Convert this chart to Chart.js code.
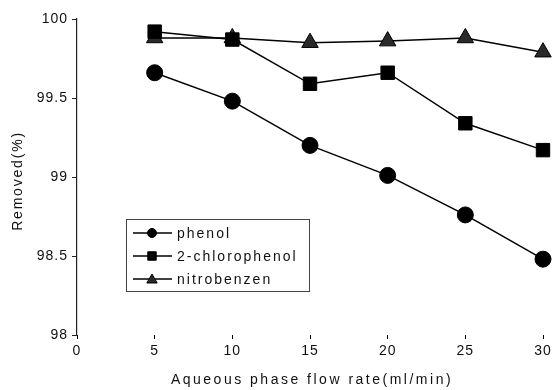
<!DOCTYPE html>
<html><head><meta charset="utf-8">
<script src="https://cdn.jsdelivr.net/npm/chart.js@4"></script>
<style>html,body{margin:0;padding:0;background:#fff}#wrap{width:557px;height:390px}</style>
</head><body><div id="wrap"><canvas id="c" width="557" height="390"></canvas></div>
<script>
const flowRates = [5, 10, 15, 20, 25, 30];
const phenol = [99.66, 99.48, 99.20, 99.01, 98.76, 98.48];
const chlorophenol = [99.92, 99.87, 99.59, 99.66, 99.34, 99.17];
const nitrobenzen = [99.88, 99.88, 99.85, 99.86, 99.88, 99.79];
const seriesNames = ['phenol', '2-chlorophenol', 'nitrobenzen'];
const xTicks = [0, 5, 10, 15, 20, 25, 30];
const yTicks = [98, 98.5, 99, 99.5, 100];
const xTitle = 'Aqueous phase flow rate(ml/min)';
const yTitle = 'Removed(%)';

const FONT = '"Liberation Sans", Arial, sans-serif';
const mk = (vals) => flowRates.map((x, i) => ({x, y: vals[i]}));

const spacing = {
  id: 'spacing',
  beforeInit(chart) { chart.ctx.letterSpacing = '1px'; },
  beforeUpdate(chart) { chart.ctx.letterSpacing = '1px'; },
  beforeDraw(chart) { chart.ctx.letterSpacing = '1px'; }
};

const titlesPlugin = {
  id: 'titlesPlugin',
  afterDraw(chart) {
    const ctx = chart.ctx, a = chart.chartArea;
    ctx.save();
    ctx.font = '14px ' + FONT;
    ctx.fillStyle = '#111';
    ctx.textAlign = 'center';
    ctx.textBaseline = 'middle';
    ctx.letterSpacing = '2.5px';
    ctx.fillText(xTitle, (a.left + a.right) / 2 + 2, 380);
    ctx.translate(18, (a.top + a.bottom) / 2 + 4);
    ctx.rotate(-Math.PI / 2);
    ctx.letterSpacing = '1.8px';
    ctx.fillText(yTitle, 0, 0);
    ctx.restore();
  }
};

const boxLegend = {
  id: 'boxLegend',
  afterDatasetsDraw(chart) {
    const ctx = chart.ctx;
    const x0 = 126, y0 = 219, w = 183, h = 72;
    ctx.save();
    ctx.fillStyle = '#fff';
    ctx.fillRect(x0, y0, w, h);
    ctx.strokeStyle = '#444';
    ctx.lineWidth = 1;
    ctx.strokeRect(x0 + 0.5, y0 + 0.5, w, h);
    const sizes = {circle: 4.5, rect: 6, triangle: 6};
    chart.data.datasets.forEach((ds, i) => {
      const cy = y0 + 14 + i * 23;
      ctx.strokeStyle = '#000';
      ctx.lineWidth = 1.5;
      ctx.beginPath(); ctx.moveTo(x0 + 7, cy); ctx.lineTo(x0 + 46, cy); ctx.stroke();
      ctx.fillStyle = ds.pointBackgroundColor;
      ctx.strokeStyle = '#000';
      ctx.lineWidth = 1;
      Chart.helpers.drawPoint(ctx, {pointStyle: ds.pointStyle, rotation: 0, radius: sizes[ds.pointStyle], borderWidth: 1}, x0 + 26, cy + (ds.pointStyle === 'triangle' ? 1 : 0));
      ctx.fillStyle = '#111';
      ctx.letterSpacing = '2px';
      ctx.font = '14px ' + FONT;
      ctx.textBaseline = 'middle';
      ctx.textAlign = 'left';
      ctx.fillText(ds.label, x0 + 51, cy + 1);
    });
    ctx.restore();
  }
};

new Chart(document.getElementById('c'), {
  type: 'scatter',
  data: {
    datasets: [
      {label: seriesNames[0], data: mk(phenol), order: 2, pointStyle: 'circle', pointRadius: 8, pointBackgroundColor: '#000'},
      {label: seriesNames[1], data: mk(chlorophenol), order: 0, pointStyle: 'rect', pointRadius: 9.5, pointBackgroundColor: '#000'},
      {label: seriesNames[2], data: mk(nitrobenzen), order: 1, pointStyle: 'triangle', pointRadius: 9.5, pointBackgroundColor: '#2a2a2a'}
    ].map(d => Object.assign({showLine: true, clip: false, borderColor: '#000', borderWidth: 1.5, pointBorderColor: '#000', pointBorderWidth: 1, pointHoverRadius: d.pointRadius}, d))
  },
  options: {
    responsive: false,
    animation: false,
    devicePixelRatio: 1,
    layout: {padding: {top: 19, right: 14, left: 0, bottom: 0}},
    plugins: {legend: {display: false}, tooltip: {enabled: false}},
    scales: {
      x: {
        type: 'linear', min: 0, max: 30,
        afterBuildTicks(s) { s.ticks = xTicks.map(v => ({value: v})); },
        afterFit(s) { s.height = 55; },
        border: {display: false},
        grid: {display: true, drawOnChartArea: false, drawTicks: true, tickLength: 4, color: '#000', lineWidth: 1},
        ticks: {color: '#111', font: {family: FONT, size: 14}, padding: 4, maxRotation: 0},
        title: {display: false}
      },
      y: {
        type: 'linear', min: 98, max: 100,
        afterBuildTicks(s) { s.ticks = yTicks.map(v => ({value: v})); },
        afterFit(s) { s.width = 77; },
        border: {display: true, color: '#222', width: 1.2},
        grid: {display: true, drawOnChartArea: false, drawTicks: true, tickLength: 5, color: '#222'},
        ticks: {color: '#111', font: {family: FONT, size: 14}, padding: 4, callback: v => String(v)},
        title: {display: false}
      }
    }
  },
  plugins: [spacing, titlesPlugin, boxLegend]
});
</script>
</body></html>
